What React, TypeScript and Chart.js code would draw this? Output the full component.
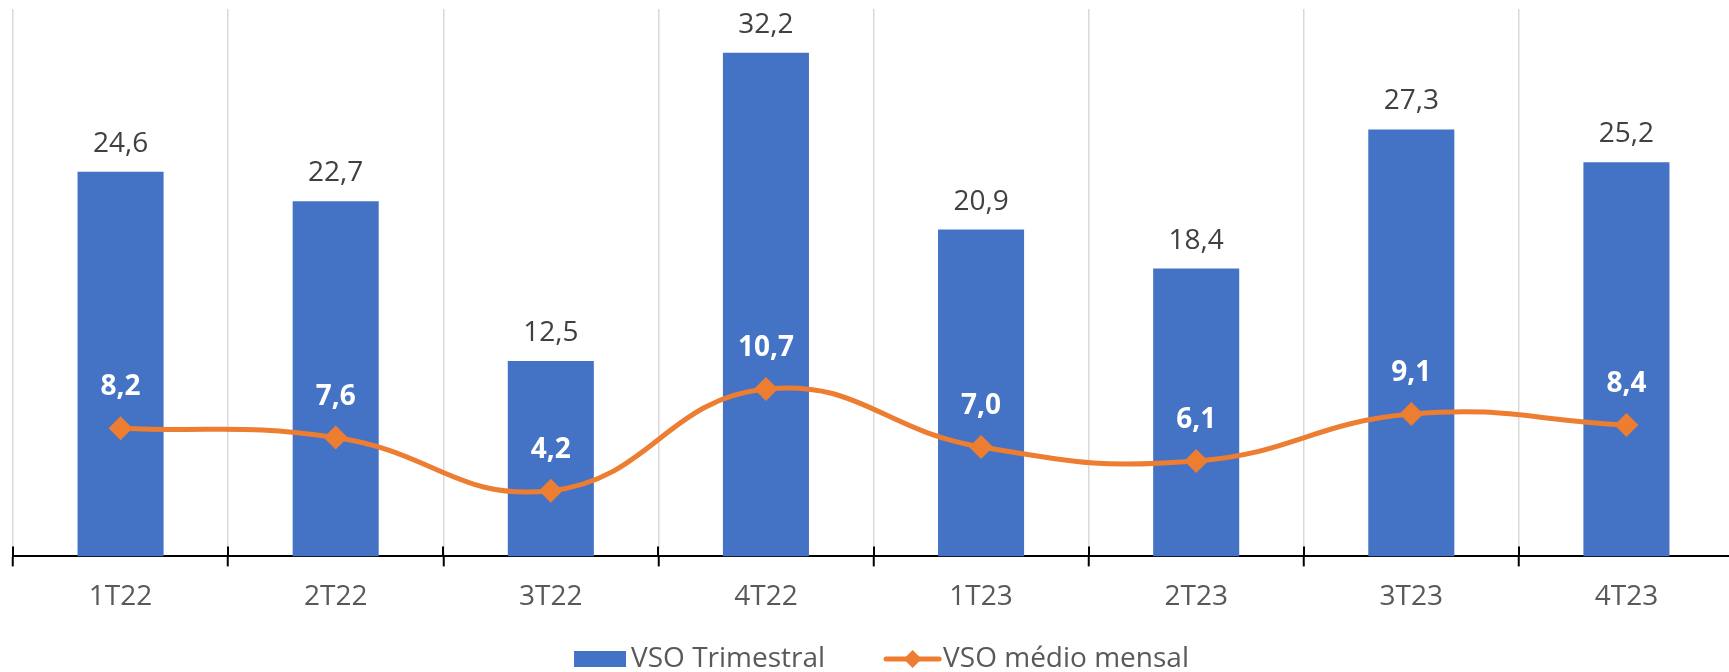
import React, { useEffect, useRef } from "react";
import { Chart, registerables } from "chart.js";

Chart.register(...registerables);

const categories = ["1T22", "2T22", "3T22", "4T22", "1T23", "2T23", "3T23", "4T23"];
const vsoTrimestral = [24.6, 22.7, 12.5, 32.2, 20.9, 18.4, 27.3, 25.2];
const vsoMedioMensal = [8.2, 7.6, 4.2, 10.7, 7.0, 6.1, 9.1, 8.4];
const legendLabels = ["VSO Trimestral", "VSO médio mensal"];

const BLUE = "#4472C4";
const ORANGE = "#ED7D31";
const FONT = "'Open Sans', 'Noto Sans', sans-serif";

const fmt = (v: number) => v.toFixed(1).replace(".", ",");

const decorPlugin = {
  id: "decor",
  afterDatasetsDraw(chart: any) {
    const ctx = chart.ctx;
    ctx.save();
    const barMeta = chart.getDatasetMeta(0);
    ctx.font = `28px ${FONT}`;
    ctx.fillStyle = "#404040";
    ctx.textAlign = "center";
    ctx.textBaseline = "alphabetic";
    barMeta.data.forEach((el: any, i: number) => {
      ctx.fillText(fmt(vsoTrimestral[i]), el.x, el.y - 20);
    });
    const lineMeta = chart.getDatasetMeta(1);
    ctx.font = `bold 28px ${FONT}`;
    ctx.fillStyle = "#FFFFFF";
    lineMeta.data.forEach((el: any, i: number) => {
      ctx.fillText(fmt(vsoMedioMensal[i]), el.x, el.y - 33);
    });
    ctx.restore();
  },
  afterDraw(chart: any) {
    const ctx = chart.ctx;
    const xs = chart.scales.x;
    const area = chart.chartArea;
    ctx.save();
    ctx.strokeStyle = "#000";
    ctx.lineWidth = 2;
    for (let i = 0; i <= categories.length; i++) {
      const x = Math.round(xs.getPixelForValue(i - 0.5));
      ctx.beginPath();
      ctx.moveTo(x, area.bottom - 10);
      ctx.lineTo(x, area.bottom);
      ctx.stroke();
    }
    ctx.font = `28px ${FONT}`;
    ctx.textBaseline = "alphabetic";
    ctx.textAlign = "left";
    const w1 = ctx.measureText(legendLabels[0]).width;
    const w2 = ctx.measureText(legendLabels[1]).width;
    const boxW = 52;
    const lineW = 57;
    const gapItem = 59;
    const total = boxW + 5 + w1 + gapItem + lineW + 2 + w2;
    const cx = (area.left + area.right) / 2 + 8;
    let x = cx - total / 2;
    const cy = 659;
    const baseline = 667;
    ctx.fillStyle = BLUE;
    ctx.fillRect(x, cy - 8, boxW, 16);
    x += boxW + 5;
    ctx.fillStyle = "#595959";
    ctx.fillText(legendLabels[0], x, baseline);
    x += w1 + gapItem;
    ctx.strokeStyle = ORANGE;
    ctx.lineWidth = 5;
    ctx.lineCap = "round";
    ctx.beginPath();
    ctx.moveTo(x + 2, cy);
    ctx.lineTo(x + lineW - 2, cy);
    ctx.stroke();
    ctx.fillStyle = ORANGE;
    const mx = x + lineW / 2;
    const r = 9;
    ctx.beginPath();
    ctx.moveTo(mx, cy - r);
    ctx.lineTo(mx + r, cy);
    ctx.lineTo(mx, cy + r);
    ctx.lineTo(mx - r, cy);
    ctx.closePath();
    ctx.fill();
    x += lineW + 2;
    ctx.fillStyle = "#595959";
    ctx.fillText(legendLabels[1], x, baseline);
    ctx.restore();
  },
};

export default function App() {
  const canvasRef = useRef<HTMLCanvasElement | null>(null);

  useEffect(() => {
    if (!canvasRef.current) return;
    const chart = new Chart(canvasRef.current, {
      type: "bar",
      data: {
        labels: categories,
        datasets: [
          {
            type: "bar",
            label: legendLabels[0],
            data: vsoTrimestral,
            backgroundColor: BLUE,
            barPercentage: 0.8,
            categoryPercentage: 0.5,
            order: 1,
          },
          {
            type: "line",
            label: legendLabels[1],
            data: vsoMedioMensal,
            borderColor: ORANGE,
            borderWidth: 5,
            backgroundColor: ORANGE,
            pointStyle: "rectRot",
            pointRadius: 12,
            pointBackgroundColor: ORANGE,
            pointBorderColor: ORANGE,
            pointBorderWidth: 0,
            tension: 0.45,
            fill: false,
            clip: false as any,
            order: 0,
          },
        ],
      },
      options: {
        animation: false,
        responsive: false,
        maintainAspectRatio: false,
        devicePixelRatio: 1,
        layout: { autoPadding: false, padding: { top: 9, left: 13, right: 2, bottom: 44 } },
        plugins: {
          legend: { display: false },
          tooltip: { enabled: false },
          title: { display: false },
        },
        scales: {
          x: {
            grid: {
              display: true,
              offset: true,
              color: "#D9D9D9",
              lineWidth: 1.5,
              drawTicks: true,
              tickLength: 10,
              tickColor: "#000",
              tickWidth: 2,
            },
            border: { display: true, color: "#000", width: 2 },
            ticks: {
              color: "#595959",
              font: { family: FONT, size: 28 },
              padding: 14,
              maxRotation: 0,
              autoSkip: false,
            },
          },
          y: {
            display: false,
            min: 0,
            max: 35,
          },
        },
      },
      plugins: [decorPlugin],
    });
    return () => chart.destroy();
  }, []);

  return (
    <div
      style={{
        position: "fixed",
        left: 0,
        top: 0,
        width: 1729,
        height: 672,
        overflow: "hidden",
        background: "#fff",
      }}
    >
      <canvas ref={canvasRef} width={1736} height={672} style={{ display: "block" }} />
    </div>
  );
}
